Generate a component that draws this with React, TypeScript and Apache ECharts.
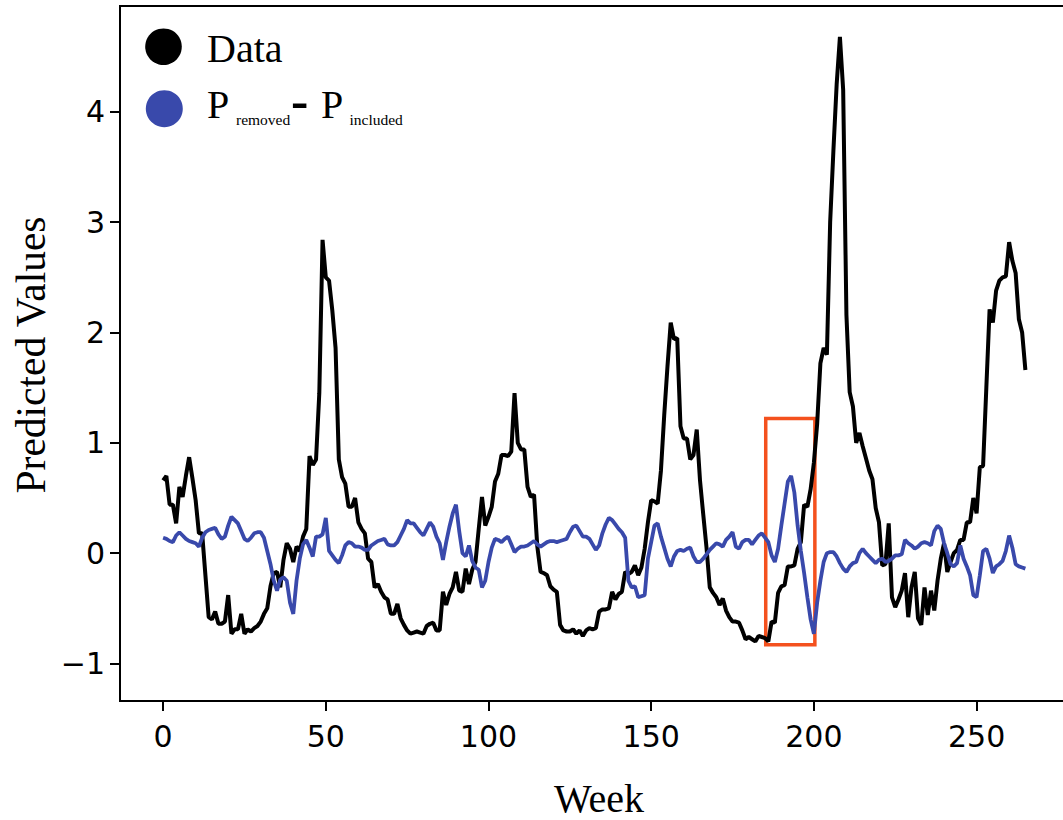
import React, { useEffect, useRef } from "react";
import * as echarts from "echarts";

// ---- Data ----
const dataValues: number[] = [
  0.66, 0.70, 0.44, 0.44, 0.27, 0.60, 0.51, 0.70, 0.87, 0.68,
  0.48, 0.18, 0.18, -0.20, -0.58, -0.60, -0.53, -0.64, -0.64, -0.62,
  -0.38, -0.73, -0.69, -0.69, -0.55, -0.73, -0.69, -0.71, -0.68, -0.66,
  -0.62, -0.55, -0.50, -0.30, -0.18, -0.17, -0.31, -0.06, 0.09, 0.04,
  -0.08, 0.06, 0.02, 0.15, 0.22, 0.88, 0.80, 0.85, 1.45, 2.84,
  2.50, 2.47, 2.20, 1.86, 0.85, 0.69, 0.63, 0.42, 0.42, 0.50,
  0.28, 0.22, 0.18, -0.05, -0.08, -0.31, -0.28, -0.35, -0.40, -0.42,
  -0.55, -0.55, -0.46, -0.59, -0.65, -0.70, -0.73, -0.72, -0.71, -0.72,
  -0.73, -0.66, -0.64, -0.63, -0.70, -0.70, -0.35, -0.47, -0.37, -0.31,
  -0.17, -0.34, -0.35, -0.14, -0.28, -0.15, -0.08, 0.22, 0.51, 0.25,
  0.33, 0.42, 0.65, 0.72, 0.89, 0.89, 0.88, 0.92, 1.45, 1.00,
  0.94, 0.94, 0.60, 0.51, 0.53, 0.06, -0.17, -0.18, -0.20, -0.30,
  -0.33, -0.35, -0.65, -0.70, -0.71, -0.71, -0.69, -0.73, -0.70, -0.75,
  -0.70, -0.68, -0.69, -0.68, -0.53, -0.51, -0.51, -0.50, -0.35, -0.42,
  -0.37, -0.35, -0.17, -0.19, -0.17, -0.11, -0.20, -0.13, 0.04, 0.28,
  0.48, 0.47, 0.45, 0.75, 1.25, 1.69, 2.09, 1.94, 1.95, 1.15,
  1.04, 1.04, 0.85, 0.89, 1.12, 0.66, 0.35, 0.05, -0.31, -0.36,
  -0.40, -0.47, -0.41, -0.52, -0.58, -0.62, -0.62, -0.63, -0.70, -0.78,
  -0.76, -0.78, -0.80, -0.75, -0.76, -0.77, -0.80, -0.62, -0.63, -0.36,
  -0.30, -0.29, -0.12, -0.12, -0.11, 0.04, 0.10, 0.44, 0.42, 0.58,
  0.82, 1.17, 1.72, 1.86, 1.80, 3.00, 3.65, 4.25, 4.68, 4.20,
  2.16, 1.46, 1.33, 1.00, 1.09, 0.97, 0.86, 0.75, 0.67, 0.41,
  0.28, -0.11, -0.10, 0.27, -0.40, -0.49, -0.42, -0.34, -0.18, -0.58,
  -0.31, -0.17, -0.59, -0.65, -0.31, -0.56, -0.34, -0.52, -0.25, -0.05,
  0.09, -0.17, -0.08, 0.00, 0.03, 0.12, 0.12, 0.28, 0.28, 0.50,
  0.36, 0.78, 0.79, 1.50, 2.21, 2.09, 2.38, 2.47, 2.50, 2.51,
  2.82, 2.65, 2.54, 2.12, 2.00, 1.66,
];

const diffValues: number[] = [
  0.14, 0.13, 0.11, 0.10, 0.16, 0.19, 0.16, 0.13, 0.11, 0.10,
  0.09, 0.06, 0.14, 0.19, 0.21, 0.22, 0.23, 0.17, 0.13, 0.15,
  0.25, 0.33, 0.30, 0.27, 0.20, 0.13, 0.11, 0.14, 0.18, 0.19,
  0.19, 0.14, 0.02, -0.10, -0.25, -0.34, -0.24, -0.22, -0.25, -0.45,
  -0.55, -0.25, -0.05, 0.08, 0.12, 0.05, -0.03, 0.15, 0.15, 0.17,
  0.32, 0.02, -0.02, -0.06, -0.09, -0.02, 0.07, 0.10, 0.09, 0.06,
  0.06, 0.05, 0.03, 0.03, 0.07, 0.09, 0.11, 0.12, 0.13, 0.08,
  0.07, 0.07, 0.10, 0.16, 0.22, 0.30, 0.27, 0.27, 0.23, 0.19,
  0.16, 0.22, 0.28, 0.24, 0.15, 0.09, -0.06, 0.10, 0.24, 0.36,
  0.44, 0.20, 0.00, -0.03, 0.07, -0.07, -0.13, -0.15, -0.31, -0.25,
  -0.08, 0.05, 0.13, 0.12, 0.10, 0.13, 0.15, 0.08, 0.01, 0.04,
  0.06, 0.06, 0.07, 0.09, 0.11, 0.08, 0.06, 0.08, 0.10, 0.11,
  0.11, 0.10, 0.11, 0.12, 0.13, 0.19, 0.24, 0.25, 0.20, 0.15,
  0.15, 0.13, 0.08, 0.03, 0.07, 0.18, 0.26, 0.32, 0.30, 0.26,
  0.22, 0.19, 0.14, -0.25, -0.31, -0.30, -0.40, -0.39, -0.38, -0.05,
  0.10, 0.25, 0.27, 0.15, 0.05, -0.05, -0.12, -0.03, 0.02, 0.03,
  0.02, 0.04, 0.05, -0.03, -0.08, -0.08, -0.05, -0.01, 0.03, 0.06,
  0.09, 0.08, 0.06, 0.12, 0.15, 0.19, 0.06, 0.04, 0.10, 0.12,
  0.12, 0.08, 0.12, 0.16, 0.18, 0.14, 0.10, -0.02, -0.08, 0.04,
  0.25, 0.45, 0.65, 0.70, 0.55, 0.25, 0.02, -0.18, -0.40, -0.60,
  -0.73, -0.45, -0.25, -0.08, 0.00, 0.01, 0.01, -0.03, -0.09, -0.14,
  -0.17, -0.12, -0.09, -0.08, 0.00, 0.04, 0.00, -0.03, -0.06, -0.09,
  -0.06, -0.05, -0.08, -0.07, -0.05, -0.02, -0.02, -0.01, 0.12, 0.09,
  0.07, 0.04, 0.06, 0.09, 0.10, 0.09, 0.07, 0.20, 0.25, 0.22,
  0.09, 0.00, -0.10, -0.12, -0.09, 0.07, -0.05, -0.12, -0.20, -0.38,
  -0.40, -0.20, 0.02, 0.04, -0.05, -0.18, -0.12, -0.10, -0.07, 0.02,
  0.16, 0.05, -0.10, -0.12, -0.13, -0.14,
];

const weeks: number[] = dataValues.map((_, i) => i);

const xTicks: number[] = [0, 50, 100, 150, 200, 250];
const yTicks: number[] = [-1, 0, 1, 2, 3, 4];

// highlighted window (weeks) and value range of the red box
const highlightWeeks: number[] = [185.2, 200.3];
const highlightValues: number[] = [-0.83, 1.22];

const BLUE = "#3949AB";
const RED = "#F4511E";
const SERIF = "'Liberation Serif', 'Times New Roman', serif";
const SANS = "'DejaVu Sans', sans-serif";

export default function App() {
  const ref = useRef<HTMLDivElement>(null);

  useEffect(() => {
    if (!ref.current) return;
    const chart = echarts.init(ref.current, undefined, { renderer: "svg" });

    const blackData = weeks.map((w, i) => [w, dataValues[i]]);
    const blueData = weeks.map((w, i) => [w, diffValues[i]]);

    const option: any = {
      animation: false,
      backgroundColor: "#fff",
      grid: {
        left: 120,
        right: 11.5,
        top: 6,
        bottom: 119,
        show: true,
        borderColor: "#000",
        borderWidth: 2,
        backgroundColor: "transparent",
      },
      xAxis: {
        type: "value",
        min: -13.25,
        max: 278.25,
        axisLine: { show: true, onZero: false, lineStyle: { color: "#000", width: 2 } },
        axisTick: {
          show: true,
          length: 10,
          customValues: xTicks,
          lineStyle: { color: "#000", width: 2 },
        },
        axisLabel: {
          customValues: xTicks,
          margin: 20,
          fontSize: 30,
          fontFamily: SANS,
          color: "#000",
        },
        splitLine: { show: false },
      },
      yAxis: {
        type: "value",
        min: -1.34,
        max: 4.96,
        axisLine: { show: true, onZero: false, lineStyle: { color: "#000", width: 2 } },
        axisTick: {
          show: true,
          length: 10,
          customValues: yTicks,
          lineStyle: { color: "#000", width: 2 },
        },
        axisLabel: {
          customValues: yTicks,
          margin: 15,
          fontSize: 30,
          fontFamily: SANS,
          color: "#000",
          formatter: (v: number) => (v < 0 ? "\u2212" + Math.abs(v) : String(v)),
        },
        splitLine: { show: false },
      },
      series: [
        {
          name: "Data",
          type: "line",
          data: blackData,
          showSymbol: false,
          symbol: "none",
          lineStyle: { color: "#000", width: 4 },
          z: 2,
          markArea: {
            silent: true,
            itemStyle: {
              color: "rgba(0,0,0,0)",
              borderColor: RED,
              borderWidth: 3.5,
            },
            data: [
              [
                { xAxis: highlightWeeks[0], yAxis: highlightValues[1] },
                { xAxis: highlightWeeks[1], yAxis: highlightValues[0] },
              ],
            ],
          },
        },
        {
          name: "P_removed - P_included",
          type: "line",
          data: blueData,
          showSymbol: false,
          symbol: "none",
          lineStyle: { color: BLUE, width: 3.8 },
          z: 3,
        },
      ],
      graphic: [
        {
          type: "text",
          x: 31,
          y: 355,
          rotation: Math.PI / 2,
          style: {
            text: "Predicted Values",
            fontFamily: SERIF,
            fontSize: 41.5,
            fill: "#000",
            align: "center",
            verticalAlign: "middle",
          },
        },
        {
          type: "text",
          x: 599,
          y: 798,
          style: {
            text: "Week",
            fontFamily: SERIF,
            fontSize: 40,
            lineHeight: 40,
            fill: "#000",
            align: "center",
            verticalAlign: "middle",
          },
        },
        { type: "circle", shape: { cx: 163.5, cy: 46.7, r: 18.3 }, style: { fill: "#000" } },
        { type: "circle", shape: { cx: 164.3, cy: 108.7, r: 18.5 }, style: { fill: BLUE } },
        {
          type: "text",
          x: 207,
          y: 48,
          style: { text: "Data", fontFamily: SERIF, fontSize: 40, fill: "#000", align: "left", verticalAlign: "middle" },
        },
        {
          type: "text",
          x: 207,
          y: 104.8,
          style: { text: "P", fontFamily: SERIF, fontSize: 40, fill: "#000", align: "left", verticalAlign: "middle" },
        },
        {
          type: "text",
          x: 236,
          y: 119.5,
          style: { text: "removed", fontFamily: SERIF, fontSize: 15.5, fill: "#000", align: "left", verticalAlign: "middle" },
        },
        {
          type: "text",
          x: 291,
          y: 100,
          style: { text: "-", fontFamily: SERIF, fontSize: 52, fontWeight: "bold", fill: "#000", align: "left", verticalAlign: "middle" },
        },
        {
          type: "text",
          x: 321,
          y: 104.8,
          style: { text: "P", fontFamily: SERIF, fontSize: 40, fill: "#000", align: "left", verticalAlign: "middle" },
        },
        {
          type: "text",
          x: 349.5,
          y: 119.5,
          style: { text: "included", fontFamily: SERIF, fontSize: 15.5, fill: "#000", align: "left", verticalAlign: "middle" },
        },
      ],
    };

    chart.setOption(option);
    return () => {
      chart.dispose();
    };
  }, []);

  return (
    <div
      style={{
        position: "fixed",
        left: 0,
        top: 0,
        width: 1063,
        height: 820,
        overflow: "hidden",
        background: "#fff",
      }}
    >
      <div ref={ref} style={{ width: 1080, height: 820 }} />
    </div>
  );
}
